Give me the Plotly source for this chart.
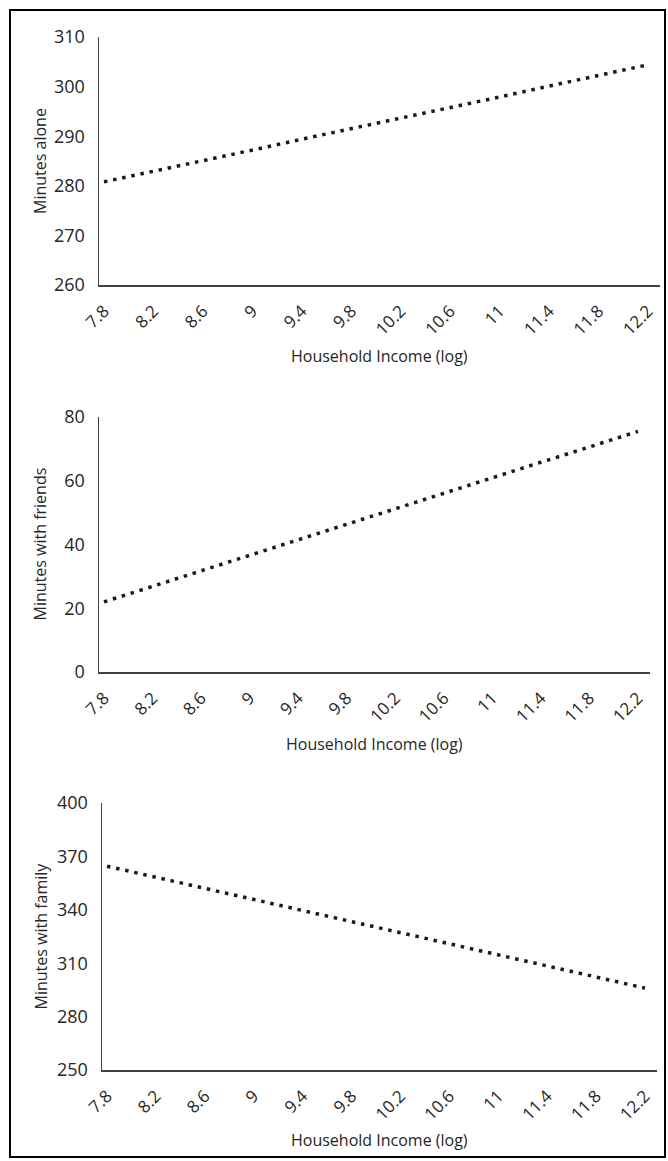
import plotly.graph_objects as go

income = [7.8, 8.2, 8.6, 9.0, 9.4, 9.8, 10.2, 10.6, 11.0, 11.4, 11.8, 12.2]
tick_labels = ["7.8", "8.2", "8.6", "9", "9.4", "9.8", "10.2", "10.6", "11", "11.4", "11.8", "12.2"]
minutes_alone = [280.8, 282.9, 285.1, 287.2, 289.4, 291.5, 293.7, 295.8, 297.9, 300.1, 302.2, 304.4]
minutes_friends = [22.0, 26.9, 31.7, 36.6, 41.5, 46.3, 51.2, 56.0, 60.9, 65.8, 70.6, 75.5]
minutes_family = [364.5, 358.3, 352.0, 345.8, 339.6, 333.4, 327.1, 320.9, 314.7, 308.5, 302.2, 296.0]
y_titles = ["Minutes alone", "Minutes with friends", "Minutes with family"]
x_title = "Household Income (log)"

W, H = 668, 1161
FONT = "Open Sans"
TXT = "#262626"
AX = "#404040"

# panel pixel boxes: (x0, x1, ytop, ybottom)
panels = [
    (99, 660, 37, 285, [260, 310], [260, 270, 280, 290, 300, 310], minutes_alone, 356),
    (99, 650, 417, 672, [0, 80], [0, 20, 40, 60, 80], minutes_friends, 744),
    (102, 657, 803, 1070, [250, 400], [250, 280, 310, 340, 370, 400], minutes_family, 1140),
]

fig = go.Figure()
for i, (x0, x1, yt, yb, yr, yt_vals, vals, xt_y) in enumerate(panels):
    n = "" if i == 0 else str(i + 1)
    fig.add_trace(go.Scatter(
        x=income, y=vals, mode="lines",
        line=dict(color="#1a1a1a", width=3.5, dash="3.5px,5.8px"),
        xaxis="x" + n, yaxis="y" + n, showlegend=False, hoverinfo="skip",
    ))
    ppu = ((x1 - 12) - (x0 + 5)) / (12.2 - 7.8)
    xr = [7.8 - 5 / ppu, 12.2 + 12 / ppu]
    fig.layout["xaxis" + n] = dict(
        domain=[x0 / W, x1 / W], range=xr, anchor="y" + n, automargin=False,
        tickmode="array", tickvals=income, ticktext=tick_labels,
        tickangle=-45, showgrid=False, zeroline=False,
        showline=True, linecolor=AX, linewidth=1.5, ticks="",
        ticklabelstandoff=8,
        tickfont=dict(family=FONT, size=17, color=TXT),
    )
    fig.layout["yaxis" + n] = dict(
        domain=[1 - yb / H, 1 - yt / H], range=yr, anchor="x" + n, automargin=False,
        tickmode="array", tickvals=yt_vals,
        showgrid=False, zeroline=False,
        showline=True, linecolor=AX, linewidth=1.5, ticks="",
        ticklabelstandoff=9,
        tickfont=dict(family=FONT, size=18, color=TXT),
    )
    fig.add_annotation(
        x=(x0 + x1) / 2 / W, y=1 - xt_y / H,
        xref="paper", yref="paper", text=x_title, showarrow=False,
        font=dict(family=FONT, size=16, color=TXT), xanchor="center", yanchor="middle",
    )
    fig.add_annotation(
        x=40 / W, y=1 - (yt + yb) / 2 / H,
        xref="paper", yref="paper", text=y_titles[i], showarrow=False, textangle=-90,
        font=dict(family=FONT, size=16, color=TXT), xanchor="center", yanchor="middle",
    )

fig.add_shape(type="rect", xref="paper", yref="paper",
              x0=10 / W, x1=665 / W, y0=1 - 1157 / H, y1=1 - 10 / H,
              line=dict(color="black", width=2))

fig.update_layout(
    template="none",
    width=W, height=H, margin=dict(l=0, r=0, t=0, b=0, pad=0, autoexpand=False),
    paper_bgcolor="white", plot_bgcolor="white",
)
fig.write_html("out.html", config={"displayModeBar": False, "staticPlot": True},
               post_script="document.body.style.margin='0';document.body.style.overflow='hidden';")
